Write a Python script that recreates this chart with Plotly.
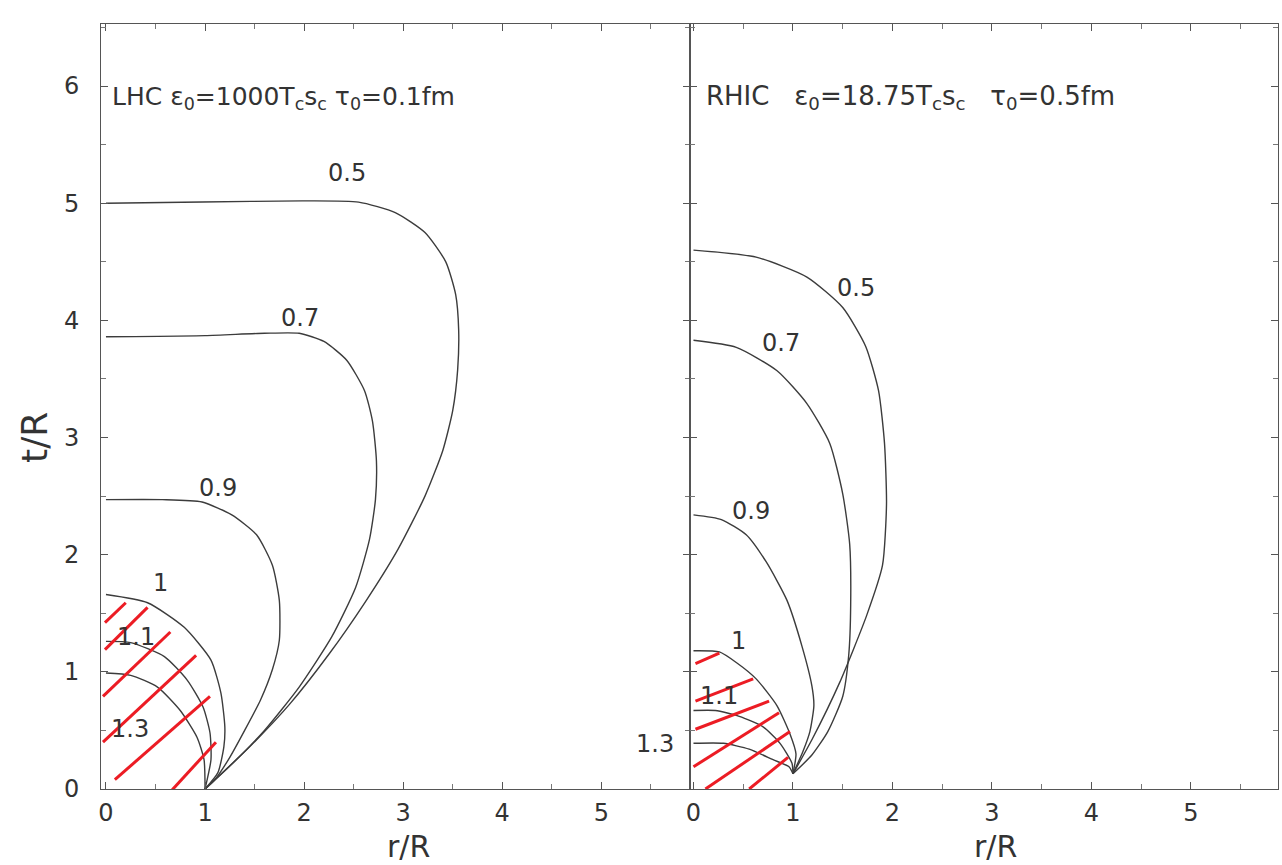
import plotly.graph_objects as go
from plotly.subplots import make_subplots

# ---------------- LHC panel (left) : isotherms T/Tc ----------------
lhc_05_r = [0.0, 0.97, 1.98, 2.55, 2.92, 3.22, 3.43, 3.53, 3.56, 3.55, 3.50, 3.40, 3.22, 2.95, 2.62, 2.25, 1.85, 1.45, 1.0]
lhc_05_t = [5.0, 5.01, 5.02, 5.01, 4.92, 4.75, 4.50, 4.22, 3.92, 3.58, 3.23, 2.89, 2.50, 2.05, 1.60, 1.15, 0.72, 0.36, 0.0]

lhc_07_r = [0.0, 1.00, 1.60, 1.95, 2.20, 2.43, 2.61, 2.69, 2.73, 2.72, 2.66, 2.52, 2.28, 1.95, 1.60, 1.28, 1.0]
lhc_07_t = [3.86, 3.87, 3.89, 3.89, 3.82, 3.66, 3.40, 3.14, 2.80, 2.47, 2.13, 1.72, 1.30, 0.87, 0.50, 0.22, 0.0]

lhc_09_r = [0.0, 0.57, 0.97, 1.27, 1.52, 1.68, 1.75, 1.75, 1.68, 1.56, 1.40, 1.25, 1.10, 1.0]
lhc_09_t = [2.47, 2.47, 2.45, 2.34, 2.17, 1.91, 1.61, 1.27, 1.02, 0.76, 0.50, 0.27, 0.08, 0.0]

lhc_10_r = [0.0, 0.42, 0.79, 1.06, 1.16, 1.20, 1.19, 1.13, 1.0]
lhc_10_t = [1.66, 1.59, 1.38, 1.10, 0.82, 0.53, 0.36, 0.14, 0.0]

lhc_11_r = [0.0, 0.25, 0.59, 0.82, 0.98, 1.05, 1.06, 1.0]
lhc_11_t = [1.26, 1.25, 1.13, 0.93, 0.70, 0.48, 0.25, 0.0]

lhc_13_r = [0.0, 0.25, 0.52, 0.75, 0.92, 0.99, 1.0]
lhc_13_t = [0.99, 0.97, 0.87, 0.67, 0.44, 0.25, 0.0]

# ---------------- RHIC panel (right) ----------------
rhic_05_r = [0.0, 0.63, 1.14, 1.50, 1.73, 1.86, 1.92, 1.94, 1.90, 1.74, 1.47, 1.19, 1.0]
rhic_05_t = [4.60, 4.54, 4.37, 4.11, 3.78, 3.40, 2.95, 2.43, 1.91, 1.48, 0.91, 0.42, 0.13]

rhic_07_r = [0.0, 0.43, 0.84, 1.14, 1.37, 1.50, 1.57, 1.58, 1.56, 1.50, 1.35, 1.19, 1.0]
rhic_07_t = [3.83, 3.77, 3.57, 3.29, 2.95, 2.52, 2.09, 1.57, 1.14, 0.79, 0.49, 0.29, 0.13]

rhic_09_r = [0.0, 0.28, 0.53, 0.73, 0.94, 1.09, 1.19, 1.21, 1.17, 1.10, 1.0]
rhic_09_t = [2.34, 2.30, 2.17, 1.94, 1.61, 1.22, 0.88, 0.71, 0.49, 0.32, 0.13]

rhic_10_r = [0.0, 0.26, 0.43, 0.63, 0.84, 0.97, 1.03, 1.0]
rhic_10_t = [1.18, 1.17, 1.08, 0.94, 0.71, 0.47, 0.30, 0.13]

rhic_11_r = [0.0, 0.22, 0.46, 0.70, 0.87, 0.99, 1.0]
rhic_11_t = [0.67, 0.67, 0.62, 0.53, 0.39, 0.22, 0.13]

rhic_13_r = [0.0, 0.30, 0.56, 0.80, 0.96, 1.0]
rhic_13_t = [0.39, 0.39, 0.34, 0.25, 0.19, 0.13]

# hand-drawn red hatching (start r, start t, end r, end t)
lhc_hatch = [
    (-0.01, 1.42, 0.20, 1.59),
    (-0.01, 1.19, 0.42, 1.55),
    (-0.03, 0.79, 0.65, 1.34),
    (-0.03, 0.40, 0.91, 1.14),
    (0.09, 0.08, 1.05, 0.79),
    (0.59, -0.08, 1.11, 0.40),
]
rhic_hatch = [
    (0.02, 1.07, 0.26, 1.16),
    (0.02, 0.75, 0.60, 0.94),
    (0.02, 0.51, 0.76, 0.75),
    (0.00, 0.19, 0.86, 0.65),
    (0.12, 0.00, 0.97, 0.49),
    (0.56, 0.00, 0.95, 0.27),
]

# curve labels
labels_text = ["0.5", "0.7", "0.9", "1", "1.1", "1.3"]
lhc_lab_r = [2.43, 1.96, 1.13, 0.55, 0.30, 0.24]
lhc_lab_t = [5.26, 4.02, 2.57, 1.76, 1.30, 0.51]
rhic_lab_r = [1.63, 0.88, 0.58, 0.45, 0.26, 0.0]
rhic_lab_t = [4.28, 3.81, 2.37, 1.26, 0.79, 0.38]
rhic_lab_shift = [0, 0, 0, 0, 0, -38]   # "1.3" sits left of the RHIC axis

x_ticks = [0, 1, 2, 3, 4, 5]
y_ticks = [0, 1, 2, 3, 4, 5, 6]

LINE = "#3c3c3c"
RED = "#ec1c24"
TXT = "#333333"
FONT = "DejaVu Sans"

fig = make_subplots(rows=1, cols=2, shared_yaxes=True, horizontal_spacing=0)

lhc_curves = [(lhc_05_r, lhc_05_t), (lhc_07_r, lhc_07_t), (lhc_09_r, lhc_09_t),
              (lhc_10_r, lhc_10_t), (lhc_11_r, lhc_11_t), (lhc_13_r, lhc_13_t)]
rhic_curves = [(rhic_05_r, rhic_05_t), (rhic_07_r, rhic_07_t), (rhic_09_r, rhic_09_t),
               (rhic_10_r, rhic_10_t), (rhic_11_r, rhic_11_t), (rhic_13_r, rhic_13_t)]

for col, curves in ((1, lhc_curves), (2, rhic_curves)):
    for r, t in curves:
        fig.add_trace(go.Scatter(x=r, y=t, mode="lines",
                                 line=dict(color=LINE, width=1.4, shape="spline", smoothing=0.6),
                                 showlegend=False, hoverinfo="skip"), row=1, col=col)

for col, hatch in ((1, lhc_hatch), (2, rhic_hatch)):
    for (r0, t0, r1, t1) in hatch:
        fig.add_trace(go.Scatter(x=[r0, r1], y=[t0, t1], mode="lines", line=dict(color=RED, width=3),
                                 showlegend=False, hoverinfo="skip"), row=1, col=col)

for txt, r, t in zip(labels_text, lhc_lab_r, lhc_lab_t):
    fig.add_annotation(x=r, y=t, xref="x", yref="y", text=txt, showarrow=False,
                       xanchor="center", yanchor="middle",
                       font=dict(family=FONT, size=24, color=TXT))
for txt, r, t, s in zip(labels_text, rhic_lab_r, rhic_lab_t, rhic_lab_shift):
    fig.add_annotation(x=r, y=t, xref="x2", yref="y", text=txt, showarrow=False, xshift=s,
                       xanchor="center", yanchor="middle",
                       font=dict(family=FONT, size=24, color=TXT))

fig.add_annotation(x=0.04, y=5.9, xref="x", yref="y", xanchor="left", yanchor="middle",
                   text="LHC ε<sub>0</sub>=1000T<sub>c</sub>s<sub>c</sub> τ<sub>0</sub>=0.1fm",
                   showarrow=False, font=dict(family=FONT, size=25, color=TXT))
fig.add_annotation(x=0.11, y=5.9, xref="x2", yref="y", xanchor="left", yanchor="middle",
                   text="RHIC\u00a0\u00a0 ε<sub>0</sub>=18.75T<sub>c</sub>s<sub>c</sub>\u00a0\u00a0 τ<sub>0</sub>=0.5fm",
                   showarrow=False, font=dict(family=FONT, size=26, color=TXT))

# axis titles
fig.add_annotation(x=-0.056, y=0.459, xref="paper", yref="paper", text="t/R", textangle=-90,
                   xanchor="center", yanchor="middle",
                   showarrow=False, font=dict(family=FONT, size=36, color=TXT))
fig.add_annotation(x=0.261, y=-0.075, xref="paper", yref="paper", text="r/R",
                   xanchor="center", yanchor="middle",
                   showarrow=False, font=dict(family=FONT, size=30, color=TXT))
fig.add_annotation(x=0.760, y=-0.075, xref="paper", yref="paper", text="r/R",
                   xanchor="center", yanchor="middle",
                   showarrow=False, font=dict(family=FONT, size=30, color=TXT))

xcommon = dict(showgrid=False, zeroline=False, showline=True, linecolor="#555", linewidth=1,
               mirror="ticks", ticks="inside", ticklen=7, tickcolor="#555",
               tickvals=x_ticks, ticktext=[str(v) for v in x_ticks],
               minor=dict(dtick=0.5, ticks="inside", ticklen=5, tickcolor="#777"),
               tickfont=dict(family=FONT, size=24, color=TXT), ticklabelstandoff=2)
fig.update_xaxes(**xcommon)
fig.update_xaxes(range=[-0.05, 5.89], row=1, col=1)
fig.update_xaxes(range=[-0.04, 5.875], row=1, col=2)

ycommon = dict(showgrid=False, zeroline=False, showline=True, linecolor="#555", linewidth=1,
               mirror="ticks", ticks="inside", ticklen=7, tickcolor="#555",
               tickvals=y_ticks, range=[0, 6.53],
               minor=dict(dtick=0.5, ticks="inside", ticklen=5, tickcolor="#777"),
               tickfont=dict(family=FONT, size=24, color=TXT))
fig.update_yaxes(**ycommon)
fig.update_yaxes(ticktext=[str(v) for v in y_ticks], ticklabelstandoff=16, row=1, col=1)
fig.update_yaxes(showticklabels=False, row=1, col=2)

fig.update_layout(width=1282, height=865, margin=dict(l=101, r=4, t=24, b=76),
                  plot_bgcolor="white", paper_bgcolor="white")

fig.write_html("out.html")
